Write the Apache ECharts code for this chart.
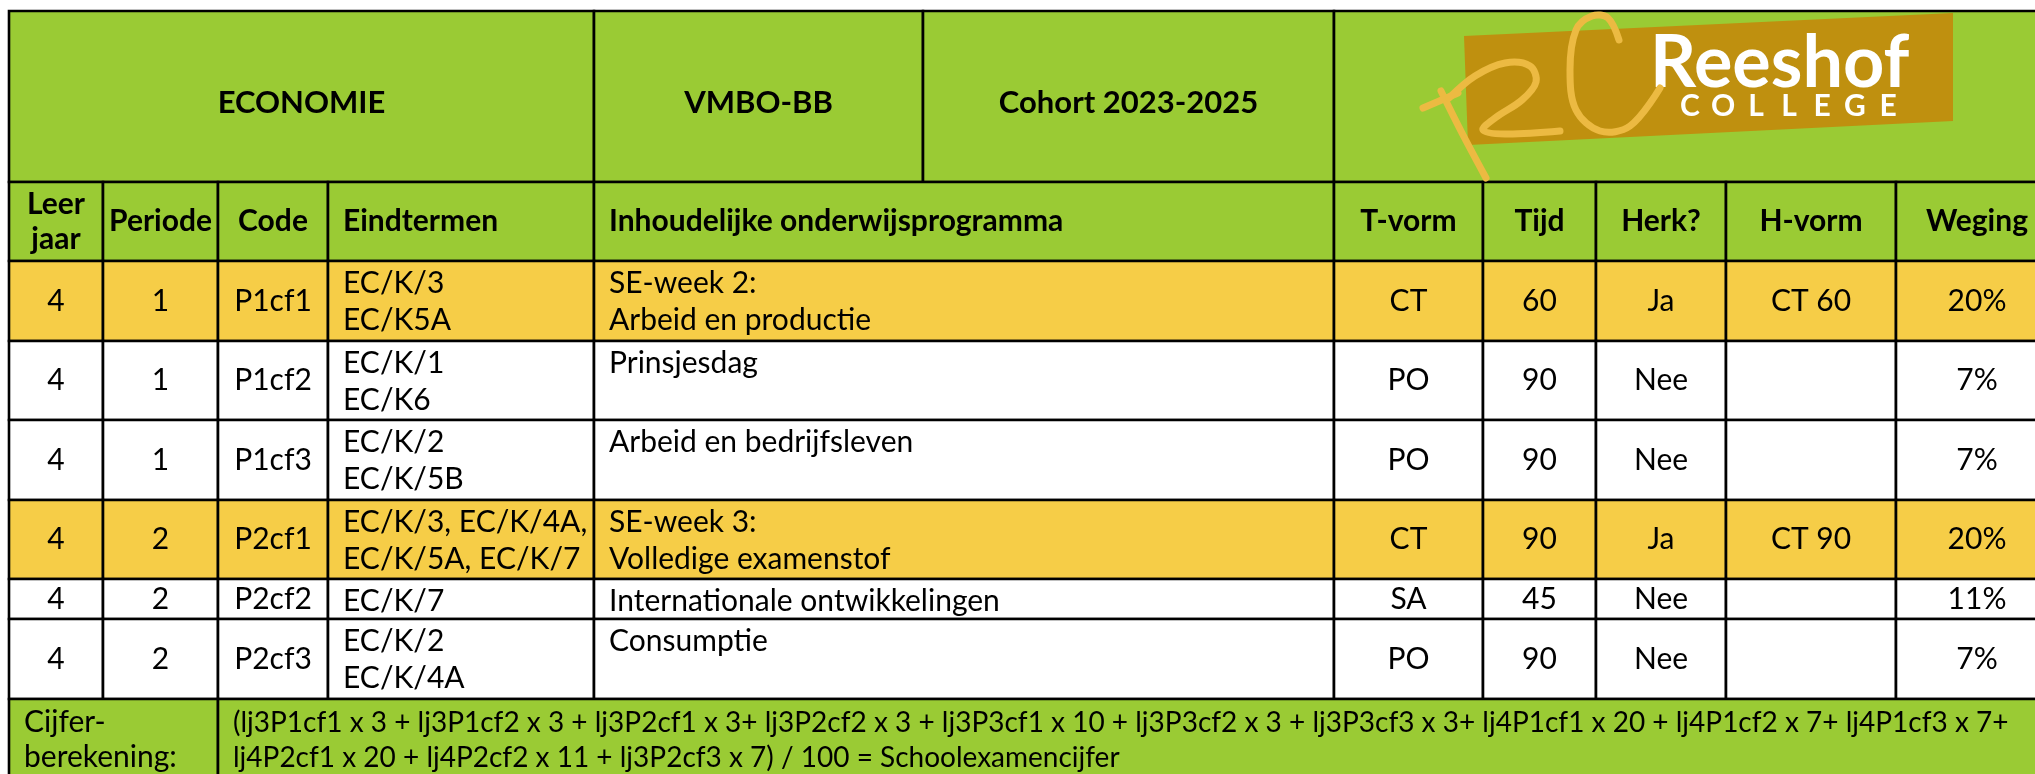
<!DOCTYPE html>
<html>
<head>
<meta charset="utf-8">
<script src="https://cdn.jsdelivr.net/npm/echarts@6/dist/echarts.min.js"></script>
<style>
  html, body { margin: 0; padding: 0; background: #fff; }
  #main { width: 2035px; height: 774px; }
</style>
</head>
<body>
<div id="main"></div>
<script>
// table content
const titles = ['ECONOMIE', 'VMBO-BB', 'Cohort 2023-2025'];
const headers = ['Leer\njaar', 'Periode', 'Code', 'Eindtermen', 'Inhoudelijke onderwijsprogramma',
  'T-vorm', 'Tijd', 'Herk?', 'H-vorm', 'Weging'];
const leerjaar = ['4', '4', '4', '4', '4', '4'];
const periode = ['1', '1', '1', '2', '2', '2'];
const codes = ['P1cf1', 'P1cf2', 'P1cf3', 'P2cf1', 'P2cf2', 'P2cf3'];
const eindtermen = [
  'EC/K/3\nEC/K5A',
  'EC/K/1\nEC/K6',
  'EC/K/2\nEC/K/5B',
  'EC/K/3, EC/K/4A,\nEC/K/5A, EC/K/7',
  'EC/K/7',
  'EC/K/2\nEC/K/4A'
];
const inhoud = [
  'SE-week 2:\nArbeid en productie',
  'Prinsjesdag',
  'Arbeid en bedrijfsleven',
  'SE-week 3:\nVolledige examenstof',
  'Internationale ontwikkelingen',
  'Consumptie'
];
const tvorm = ['CT', 'PO', 'PO', 'CT', 'SA', 'PO'];
const tijd = [60, 90, 90, 90, 45, 90];
const herk = ['Ja', 'Nee', 'Nee', 'Ja', 'Nee', 'Nee'];
const hvorm = ['CT 60', '', '', 'CT 90', '', ''];
const weging = [20, 7, 7, 20, 11, 7];
const cijferLabel = 'Cijfer-\nberekening:';
const formula = [
  '(lj3P1cf1 x 3 + lj3P1cf2 x 3 + lj3P2cf1 x 3+ lj3P2cf2 x 3 + lj3P3cf1 x 10 + lj3P3cf2 x 3 + lj3P3cf3 x 3+ lj4P1cf1 x 20 + lj4P1cf2 x 7+ lj4P1cf3 x 7+',
  'lj4P2cf1 x 20 + lj4P2cf2 x 11 + lj3P2cf3 x 7) / 100 = Schoolexamencijfer'
];

// layout (axis units)
const colWidths = [94, 115, 110, 266, 740, 149, 113, 130, 170, 162];
const titleWidths = [585, 329, 411, 724];
const rowHeights = [171, 79, 80, 79, 80, 79, 40, 80, 80];

const GREEN = '#9acb34';
const GOLD = '#f6cd47';
const FONT = 'Lato, "Open Sans", sans-serif';

const cum = arr => arr.reduce((a, w) => { a.push(a[a.length - 1] + w); return a; }, [0]);
const colX = cum(colWidths);
const titleX = cum(titleWidths);
const rowY = cum(rowHeights);

const cells = [];
const addCell = (x0, x1, r, text, fill, opts) => {
  cells.push(Object.assign({ x0, x1, y0: rowY[r], y1: rowY[r + 1], text, fill,
    align: 'center', valign: 'middle', bold: false, lh: 37, dy: 0, size: 30 }, opts || {}));
};

// title band
titles.forEach((t, i) => addCell(titleX[i], titleX[i + 1], 0, t, GREEN, { bold: true, dy: 6, size: 31 }));
addCell(titleX[3], titleX[4], 0, '', GREEN);

// header row
headers.forEach((h, i) => {
  const left = (i === 3 || i === 4);
  addCell(colX[i], colX[i + 1], 1, h, GREEN, { bold: true, lh: 35, size: 30, align: left ? 'left' : 'center' });
});

// body rows
codes.forEach((code, i) => {
  const r = 2 + i;
  const fill = herk[i] === 'Ja' ? GOLD : '#ffffff';
  const vals = [leerjaar[i], periode[i], code, eindtermen[i], inhoud[i],
    tvorm[i], String(tijd[i]), herk[i], hvorm[i], weging[i] + '%'];
  vals.forEach((v, c) => {
    const top = (c === 3 || c === 4);
    addCell(colX[c], colX[c + 1], r, v, fill, top ? { align: 'left', valign: 'top' } : null);
  });
});

// calculation row
addCell(colX[0], colX[2], 8, cijferLabel, GREEN, { align: 'left', valign: 'top', lh: 35, pad: 6 });
addCell(colX[2], colX[10], 8, formula.join('\n'), GREEN, { align: 'left', valign: 'top', lh: 35, pad: 6, size: 28 });

const chart = echarts.init(document.getElementById('main'), null, { renderer: 'canvas' });

const renderItem = (params, api) => {
  const c = cells[params.dataIndex];
  const p0 = api.coord([api.value(0), api.value(1)]);
  const p1 = api.coord([api.value(2), api.value(3)]);
  const w = p1[0] - p0[0], h = p1[1] - p0[1];
  let tx, ty;
  if (c.align === 'left') tx = p0[0] + 15; else tx = p0[0] + w / 2;
  if (c.valign === 'top') ty = p0[1] + (c.pad || 4); else ty = p0[1] + h / 2 + c.dy;
  return {
    type: 'group',
    children: [
      { type: 'rect', shape: { x: p0[0], y: p0[1], width: w, height: h },
        style: { fill: c.fill, stroke: '#000', lineWidth: 2.6 } },
      { type: 'text', x: tx, y: ty, z2: 10,
        style: { text: c.text, fill: '#000',
          font: (c.bold ? 'bold ' : '') + c.size + 'px ' + FONT,
          align: c.align, verticalAlign: c.valign, lineHeight: c.lh } }
    ]
  };
};

const yellow = '#ecba42';
const stroke = { stroke: yellow, lineWidth: 7, fill: null, lineCap: 'round', lineJoin: 'round' };
const logo = [
  { type: 'polygon', shape: { points: [[1464, 36], [1953, 13], [1953, 121], [1468, 145]] },
    style: { fill: '#bf900f' } },
  { type: 'text', x: 1650, y: 64, style: { text: 'Reeshof', fill: '#fff',
    font: 'bold 72px ' + FONT, verticalAlign: 'middle', align: 'left' } },
  { type: 'polyline', shape: { points: [[1441, 91], [1462, 133], [1486, 178]], smooth: 0.3 }, style: stroke },
  { type: 'line', shape: { x1: 1423, y1: 108, x2: 1458, y2: 93 }, style: stroke },
  { type: 'polyline', shape: { points: [[1449, 98], [1475, 76], [1505, 63], [1530, 66], [1536, 82],
    [1522, 100], [1495, 118], [1483, 130], [1505, 134], [1560, 131]], smooth: 0.35 }, style: stroke },
  { type: 'polyline', shape: { points: [[1619, 40], [1608, 18], [1592, 16], [1576, 30], [1570, 70],
    [1576, 110], [1600, 131], [1630, 126], [1660, 88]], smooth: 0.35 }, style: stroke }
];
'COLLEGE'.split('').forEach((ch, i) => {
  logo.push({ type: 'text', x: 1690 + i * 33, y: 106, style: { text: ch, fill: '#fff',
    font: 'bold 30px ' + FONT, align: 'center', verticalAlign: 'middle' } });
});

const option = {
  animation: false,
  grid: { left: 9, top: 11, right: 0, bottom: 0 },
  xAxis: { type: 'value', min: 0, max: 2026, show: false },
  yAxis: { type: 'value', min: 0, max: 763, inverse: true, show: false },
  series: [{
    type: 'custom',
    renderItem: renderItem,
    clip: false,
    encode: { x: [0, 2], y: [1, 3] },
    data: cells.map(c => [c.x0, c.y0, c.x1, c.y1])
  }],
  graphic: { elements: logo.map(e => Object.assign({ z: 100 }, e)) }
};
chart.setOption(option);
</script>
</body>
</html>
